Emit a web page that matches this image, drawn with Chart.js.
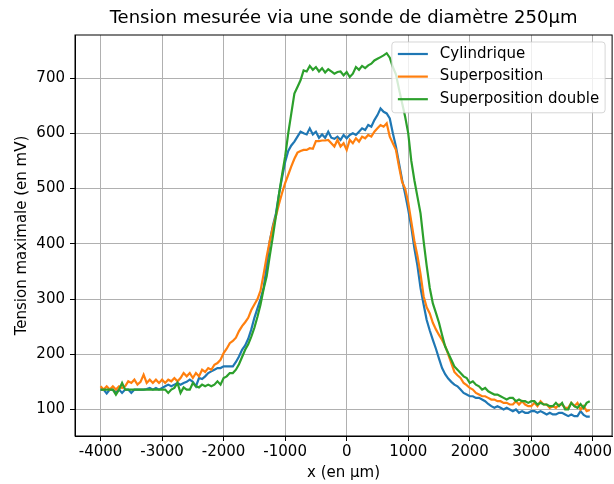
<!DOCTYPE html>
<html>
<head>
<meta charset="utf-8">
<script src="https://cdn.jsdelivr.net/npm/chart.js@4.4.1/dist/chart.umd.min.js"></script>
<style>
  body { margin: 0; background: #fff; }
  canvas { display: block; }
</style>
</head>
<body>
<canvas id="myChart" width="614" height="484"></canvas>
<script>
// positions de la sonde (µm)
var xPos = [
  -4000,-3950,-3900,-3850,-3800,-3750,-3700,-3650,-3600,-3550,-3500,-3450,-3400,-3350,-3300,-3250,-3200,-3150,-3100,-3050,
  -3000,-2950,-2900,-2850,-2800,-2750,-2700,-2650,-2600,-2550,-2500,-2450,-2400,-2350,-2300,-2250,-2200,-2150,-2100,-2050,
  -2000,-1950,-1900,-1850,-1800,-1750,-1700,-1650,-1600,-1550,-1500,-1450,-1400,-1350,-1300,-1250,-1200,-1150,-1100,-1050,
  -1000,-950,-900,-850,-800,-750,-700,-650,-600,-550,-500,-450,-400,-350,-300,-250,-200,-150,-100,-50,
  0,50,100,150,200,250,300,350,400,450,500,550,600,650,700,750,800,850,900,950,
  1000,1050,1100,1150,1200,1250,1300,1350,1400,1450,1500,1550,1600,1650,1700,1750,1800,1850,1900,1950,
  2000,2050,2100,2150,2200,2250,2300,2350,2400,2450,2500,2550,2600,2650,2700,2750,2800,2850,2900,2950,
  3000,3050,3100,3150,3200,3250,3300,3350,3400,3450,3500,3550,3600,3650,3700,3750,3800,3850,3900,3950
];

// tension maximale (mV)
var cylindrique = [
  136,136,129,136,136,131,136,130,136,136,130,136,136,136,136,137,139,136,139,136,
  139,142,145,142,145,148,145,148,150,154,150,142,157,155,160,166,169,172,175,175,
  178,178,178,178,186,196,208,216,228,245,266,283,300,320,360,405,432,455,490,520,
  548,568,578,585,594,603,600,598,609,598,603,592,598,592,603,592,590,594,588,597,
  591,597,600,597,603,609,606,615,612,624,633,645,639,636,627,600,576,546,516,490,
  462,430,392,360,320,290,262,243,226,210,192,175,164,156,150,145,142,136,130,127,
  124,124,121,121,118,115,110,106,103,106,103,100,103,100,97,100,94,97,94,94,
  97,97,94,97,94,91,94,91,91,94,94,91,88,91,88,88,97,90,87,87
];
var superposition = [
  142,136,142,136,142,136,142,139,142,151,148,154,145,150,163,148,154,148,154,148,
  154,148,154,151,157,151,157,166,160,166,157,166,160,172,168,175,172,181,184,190,
  202,210,220,224,230,242,251,258,266,280,290,300,315,345,377,405,430,450,472,492,
  510,525,540,554,565,568,570,570,573,572,586,586,587,587,588,582,576,588,576,582,
  570,588,582,591,585,594,591,597,594,603,609,615,612,618,594,582,570,540,512,500,
  475,440,405,378,345,305,285,274,257,245,235,226,215,200,184,168,162,157,148,144,
  139,136,130,127,124,124,121,118,118,115,115,112,112,109,109,115,109,115,109,106,
  106,112,106,115,109,109,103,106,103,109,109,103,103,112,106,112,100,106,97,99
];
var superpositionDouble = [
  136,136,136,136,136,127,136,148,136,136,136,136,136,136,136,136,136,136,136,136,
  136,136,130,136,139,148,130,140,136,136,148,142,140,145,142,145,142,145,151,145,
  157,160,166,166,172,182,195,208,218,232,248,268,290,318,341,378,413,450,490,525,
  558,600,636,672,684,696,714,712,722,715,720,712,718,710,716,712,708,711,712,705,
  711,702,708,720,715,722,718,723,726,732,735,738,741,745,737,720,707,680,655,630,
  600,550,515,485,455,405,360,320,292,275,257,235,214,202,190,178,172,166,160,157,
  148,151,145,142,136,139,133,130,127,127,124,121,118,121,121,115,118,115,115,112,
  115,115,109,112,109,109,106,106,112,106,112,100,100,112,106,103,110,103,112,115
];

var xTicks = [-4000, -3000, -2000, -1000, 0, 1000, 2000, 3000, 4000];
var yTicks = [100, 200, 300, 400, 500, 600, 700];

var font = 'DejaVu Sans';

function points(ys) {
  return xPos.map(function (x, i) { return {x: x, y: ys[i]}; });
}

// cadre complet + légende dans la zone de tracé
var frameAndLegend = {
  id: 'frameAndLegend',
  afterDatasetsDraw: function (chart) {
    var ctx = chart.ctx, a = chart.chartArea;
    ctx.save();
    ctx.strokeStyle = '#000';
    ctx.lineWidth = 1;
    ctx.strokeRect(a.left, a.top, a.right - a.left, a.bottom - a.top);

    var sets = chart.data.datasets;
    ctx.font = '15px "' + font + '"';
    var textW = 0;
    sets.forEach(function (d) { textW = Math.max(textW, ctx.measureText(d.label).width); });
    var pad = 6, handle = 30, gap = 12, rowH = 22.6;
    var w = pad + handle + gap + textW + pad;
    var h = rowH * sets.length + 3;
    var right = a.right - 7, top = a.top + 7, left = right - w;

    ctx.beginPath();
    ctx.roundRect(left, top, w, h, 3);
    ctx.fillStyle = 'rgba(255,255,255,0.8)';
    ctx.fill();
    ctx.strokeStyle = 'rgba(204,204,204,0.8)';
    ctx.stroke();

    sets.forEach(function (d, i) {
      var y = top + 12 + i * rowH;
      ctx.beginPath();
      ctx.moveTo(left + pad, y);
      ctx.lineTo(left + pad + handle, y);
      ctx.strokeStyle = d.borderColor;
      ctx.lineWidth = 2.2;
      ctx.stroke();
      ctx.fillStyle = '#000';
      ctx.textBaseline = 'middle';
      ctx.fillText(d.label, left + pad + handle + gap, y);
    });
    ctx.restore();
  }
};

new Chart('myChart', {
  type: 'line',
  data: {
    datasets: [{
      label: 'Cylindrique',
      data: points(cylindrique),
      borderColor: '#1f77b4',
      order: 3
    }, {
      label: 'Superposition',
      data: points(superposition),
      borderColor: '#ff7f0e',
      order: 2
    }, {
      label: 'Superposition double',
      data: points(superpositionDouble),
      borderColor: '#2ca02c',
      order: 1
    }]
  },
  options: {
    responsive: false,
    animation: false,
    devicePixelRatio: 1,
    layout: {padding: {left: 0, right: 1, top: 0, bottom: 0}},
    elements: {
      point: {radius: 0},
      line: {borderWidth: 2.2, tension: 0, fill: false}
    },
    plugins: {
      legend: {display: false},
      tooltip: {enabled: false},
      title: {
        display: true,
        text: 'Tension mesurée via une sonde de diamètre 250µm',
        color: '#000',
        font: {family: font, size: 18, weight: 'normal'},
        padding: {top: 8, bottom: 5.4},
        fullSize: false
      }
    },
    scales: {
      x: {
        type: 'linear',
        min: -4415,
        max: 4313,
        afterBuildTicks: function (s) { s.ticks = xTicks.map(function (v) { return {value: v}; }); },
        afterFit: function (s) { s.height = 48; },
        ticks: {
          color: '#000',
          font: {family: font, size: 15},
          padding: 2,
          maxRotation: 0,
          callback: function (v) { return String(v); }
        },
        grid: {color: '#b0b0b0', lineWidth: 1, tickColor: '#000', tickLength: 5, tickWidth: 1},
        border: {color: '#000', width: 1},
        title: {
          display: true,
          text: 'x (en µm)',
          color: '#000',
          font: {family: font, size: 15},
          padding: {top: 0, bottom: 2}
        }
      },
      y: {
        min: 52,
        max: 778,
        afterBuildTicks: function (s) { s.ticks = yTicks.map(function (v) { return {value: v}; }); },
        afterFit: function (s) { s.width = 75; },
        ticks: {
          color: '#000',
          font: {family: font, size: 15},
          padding: 5,
          callback: function (v) { return String(v); }
        },
        grid: {color: '#b0b0b0', lineWidth: 1, tickColor: '#000', tickLength: 5, tickWidth: 1},
        border: {color: '#000', width: 1},
        title: {
          display: true,
          text: 'Tension maximale (en mV)',
          color: '#000',
          font: {family: font, size: 15},
          padding: {top: 13, bottom: 0}
        }
      }
    }
  },
  plugins: [frameAndLegend]
});
</script>
</body>
</html>
